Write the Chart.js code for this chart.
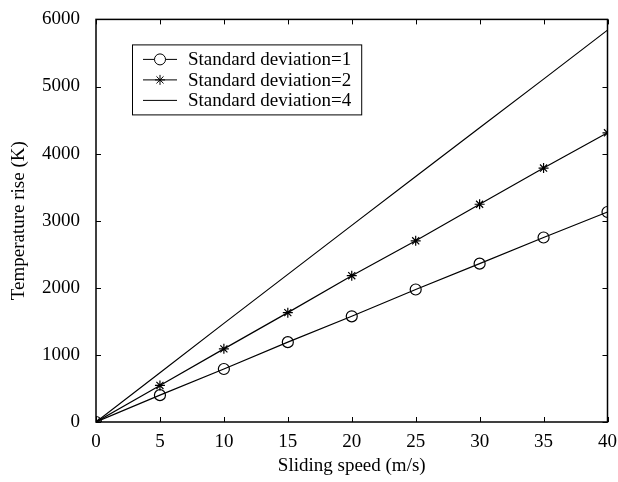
<!DOCTYPE html>
<html>
<head>
<meta charset="utf-8">
<script src="https://cdn.jsdelivr.net/npm/chart.js@4"></script>
<style>
  html, body { margin: 0; padding: 0; background: #fff; }
  #wrap { width: 618px; height: 482px; }
</style>
</head>
<body>
<div id="wrap"><canvas id="myChart" width="618" height="482"></canvas></div>
<script>
const speeds = [0, 5, 10, 15, 20, 25, 30, 35, 40];
const sd1 = [0, 400, 790, 1190, 1575, 1975, 2360, 2750, 3130];
const sd2 = [0, 545, 1090, 1630, 2180, 2700, 3245, 3785, 4310];
const sd4 = [0, 735, 1470, 2200, 2930, 3660, 4385, 5110, 5840];
const seriesNames = ['Standard deviation=1', 'Standard deviation=2', 'Standard deviation=4'];
const FONT = 'Liberation Serif, Times New Roman, serif';

function pts(ys) {
  return speeds.map((x, i) => ({x: x, y: ys[i]}));
}

// inward ticks on all four sides plus the box frame
const frameTicks = {
  id: 'frameTicks',
  afterDatasetsDraw(chart) {
    const {ctx, chartArea: a, scales: {x, y}} = chart;
    const len = 5;
    ctx.save();
    ctx.strokeStyle = '#000';
    ctx.lineWidth = 1;
    ctx.beginPath();
    x.ticks.forEach(t => {
      const px = Math.round(x.getPixelForValue(t.value)) + 0.5;
      ctx.moveTo(px, a.bottom); ctx.lineTo(px, a.bottom - len);
      ctx.moveTo(px, a.top); ctx.lineTo(px, a.top + len);
    });
    y.ticks.forEach(t => {
      const py = Math.round(y.getPixelForValue(t.value)) + 0.5;
      ctx.moveTo(a.left, py); ctx.lineTo(a.left + len, py);
      ctx.moveTo(a.right, py); ctx.lineTo(a.right - len, py);
    });
    ctx.stroke();
    ctx.lineWidth = 1.5;
    ctx.strokeRect(a.left, a.top, a.right - a.left, a.bottom - a.top);
    ctx.restore();
  }
};

// legend box drawn inside the plot, top-left
const boxLegend = {
  id: 'boxLegend',
  afterDraw(chart) {
    const {ctx, chartArea: a} = chart;
    const bx = a.left + 36, by = a.top + 25;
    ctx.save();
    ctx.font = '19px ' + FONT;
    const tw = Math.max(...seriesNames.map(n => ctx.measureText(n).width));
    const bw = 56 + tw + 10, bh = 70;
    ctx.fillStyle = '#fff';
    ctx.fillRect(bx, by, bw, bh);
    ctx.strokeStyle = '#000';
    ctx.lineWidth = 1;
    ctx.strokeRect(bx + 0.5, by + 0.5, bw, bh);
    chart.data.datasets.forEach((ds, i) => {
      const ry = by + 15 + i * 20.5;
      ctx.beginPath();
      ctx.moveTo(bx + 11, ry); ctx.lineTo(bx + 45, ry);
      ctx.stroke();
      if (ds.pointStyle && ds.pointRadius > 0) {
        Chart.helpers.drawPoint(ctx, {pointStyle: ds.pointStyle, radius: ds.pointRadius, borderWidth: 1}, bx + 28, ry);
      }
      ctx.fillStyle = '#000';
      ctx.textBaseline = 'middle';
      ctx.fillText(seriesNames[i], bx + 56, ry + 1);
    });
    ctx.restore();
  }
};

const common = {borderColor: '#000', backgroundColor: 'rgba(0,0,0,0)', borderWidth: 1.2,
  pointBorderColor: '#000', pointBackgroundColor: 'rgba(0,0,0,0)', pointBorderWidth: 1.2, tension: 0};

new Chart(document.getElementById('myChart'), {
  type: 'line',
  data: {
    datasets: [
      Object.assign({label: seriesNames[0], data: pts(sd1), pointStyle: 'circle', pointRadius: 5.5}, common),
      Object.assign({label: seriesNames[1], data: pts(sd2), pointStyle: 'star', pointRadius: 5}, common),
      Object.assign({label: seriesNames[2], data: pts(sd4), pointStyle: false, pointRadius: 0}, common)
    ]
  },
  options: {
    responsive: false,
    animation: false,
    layout: {padding: {top: 18, right: 8, left: 0, bottom: 0}},
    plugins: {legend: {display: false}, tooltip: {enabled: false}},
    scales: {
      x: {
        type: 'linear', min: 0, max: 40,
        afterFit(s) { s.height = 60; },
        ticks: {stepSize: 5, color: '#000', padding: 1, maxRotation: 0, font: {family: FONT, size: 19}},
        grid: {display: false}, border: {display: false},
        title: {display: true, text: 'Sliding speed (m/s)', color: '#000', font: {family: FONT, size: 19}, padding: {top: 4, bottom: 5}}
      },
      y: {
        min: 0, max: 6000,
        afterFit(s) { s.width = 96; },
        ticks: {stepSize: 1000, color: '#000', padding: 8, font: {family: FONT, size: 19},
          callback: v => String(v)},
        grid: {display: false}, border: {display: false},
        title: {display: true, text: 'Temperature rise (K)', color: '#000', font: {family: FONT, size: 19}, padding: {top: 8, bottom: 0}}
      }
    }
  },
  plugins: [frameTicks, boxLegend]
});
</script>
</body>
</html>
